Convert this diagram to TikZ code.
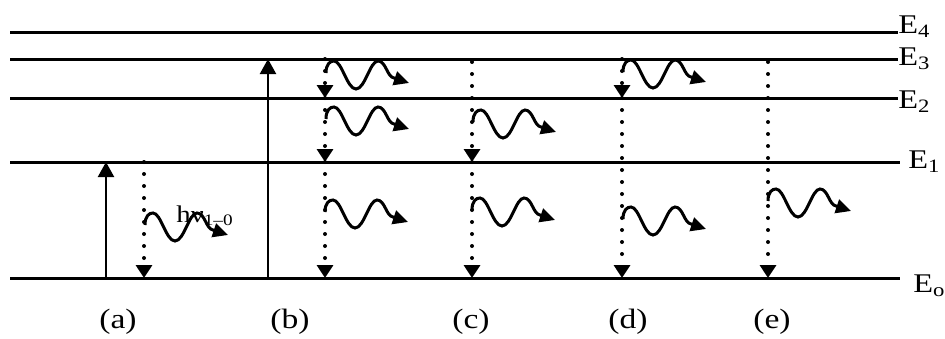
\documentclass[tikz,border=0pt]{standalone}
\usepackage{fontspec}
\setmainfont{Liberation Serif}
\newfontfamily\widefont[FakeStretch=1.2]{Liberation Serif}
\usetikzlibrary{arrows.meta}

\tikzset{
    wave/.pic={
        \draw[line width=1.5pt, -{Triangle[length=7.5pt,width=7pt]}]
            (0,0) .. controls (0,-9) and (4,-12) .. (8,-12)
            .. controls (16,-12) and (21,16) .. (30,16)
            .. controls (39,16) and (44,-12) .. (52,-12)
            .. controls (60,-12) and (61,4) .. (68,5) -- (83,10);
    }
}

\begin{document}
\begin{tikzpicture}[x=0.5pt, y=-0.5pt,
        level/.style={line width=1.5pt},
        pump/.style={line width=1.1pt, -{Triangle[length=7.5pt,width=8pt]}},
        decay/.style={line width=2pt, line cap=round, dash pattern=on 0pt off 6pt,
            -{Triangle[length=6.5pt,width=8pt]}},
        elabel/.style={anchor=base west, inner sep=0pt, font=\widefont\fontsize{13.5}{15}\selectfont},
        case/.style={anchor=base, inner sep=0pt, font=\widefont\fontsize{14}{16}\selectfont}]
    \useasboundingbox (0,0) rectangle (945,338);

    % levels
    \draw[level] (10,32) -- (898,32);
    \draw[level] (10,59) -- (898,59);
    \draw[level] (10,98) -- (898,98);
    \draw[level] (10,162) -- (900,162);
    \draw[level] (10,278) -- (900,278);
    \node[elabel] (e4) at (898,33) {E\textsubscript{4}};
    \node[elabel] (e3) at (898,65) {E\textsubscript{3}};
    \node[elabel] (e2) at (898,108) {E\textsubscript{2}};
    \node[elabel] (e1) at (908,168) {E\textsubscript{1}};
    \node[elabel] (e0) at (913,292) {E\textsubscript{o}};

    % (a)
    \draw[pump] (106,278) -- (106,162);
    \draw[decay] (144,162) -- (144,278);
    \pic at (145,225) {wave};
    \node[anchor=base west, inner sep=0pt, font=\widefont\fontsize{12}{14}\selectfont] (hnu) at (176,222)
        {hν\textsubscript{1–0}};
    \node[case] (la) at (118,328) {(a)};

    % (b)
    \draw[pump] (268,278) -- (268,59);
    \draw[decay] (325,59) -- (325,98);
    \draw[decay] (325,98) -- (325,162);
    \draw[decay] (325,162) -- (325,278);
    \pic at (326,73) {wave};
    \pic at (326,119) {wave};
    \pic at (325,212) {wave};
    \node[case] (lb) at (290,328) {(b)};

    % (c)
    \draw[decay] (472,62) -- (472,162);
    \draw[decay] (472,162) -- (472,278);
    \pic at (473,122) {wave};
    \pic at (472,210) {wave};
    \node[case] (lc) at (471,328) {(c)};

    % (d)
    \draw[decay] (622,59) -- (622,98);
    \draw[decay] (622,98) -- (622,278);
    \pic at (623,72) {wave};
    \pic at (623,219) {wave};
    \node[case] (ld) at (628,328) {(d)};

    % (e)
    \draw[decay] (768,62) -- (768,278);
    \pic at (768,201) {wave};
    \node[case] (le) at (772,328) {(e)};
\end{tikzpicture}
\end{document}
